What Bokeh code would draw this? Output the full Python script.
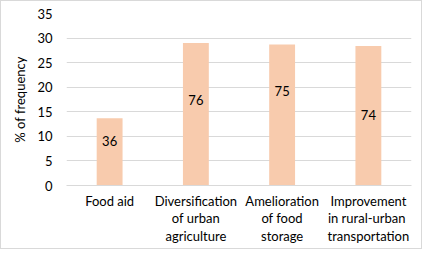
from bokeh.plotting import figure
from bokeh.models import ColumnDataSource, Range1d, FactorRange
from bokeh.embed import file_html
from bokeh.resources import INLINE
from bokeh.core.properties import value

categories = ["Food aid", "Diversification\nof urban\nagriculture",
              "Amelioration\nof food\nstorage", "Improvement\nin  rural-urban\ntransportation"]
percent = [13.7, 29.0, 28.7, 28.4]
counts = ["36", "76", "75", "74"]
label_y = [9.0, 17.5, 19.3, 14.4]
y_ticks = [0, 5, 10, 15, 20, 25, 30, 35]

FONT = "Lato"

src = ColumnDataSource(dict(cat=categories, pct=percent, lab=counts, ly=label_y))

p = figure(width=422, height=249, x_range=FactorRange(*categories), y_range=Range1d(0, 35),
           output_backend="svg", toolbar_location=None,
           min_border_left=65, min_border_right=12, min_border_top=12, min_border_bottom=65)
p.styles = {"border": "1px solid #d9d9d9", "box-sizing": "border-box"}
p.outline_line_color = None
p.x_range.range_padding = 0

p.vbar(x="cat", top="pct", width=0.30, source=src, fill_color="#F8CBAD", line_color=None)
p.text(x="cat", y="ly", text="lab", source=src, text_align="center", text_baseline="middle",
       text_font=value(FONT), text_font_size="13px", text_color="#000000")

p.xgrid.grid_line_color = None
p.ygrid.grid_line_color = "#d9d9d9"
p.ygrid.grid_line_width = 1
p.yaxis.ticker = y_ticks
p.yaxis.axis_line_color = None
p.yaxis.major_tick_line_color = None
p.yaxis.minor_tick_line_color = None
p.yaxis.major_label_text_font = FONT
p.yaxis.major_label_text_font_size = "13px"
p.yaxis.major_label_text_color = "#000000"
p.yaxis.major_label_standoff = 8
p.yaxis.axis_label = "% of frequency"
p.yaxis.axis_label_text_font = FONT
p.yaxis.axis_label_text_font_size = "13px"
p.yaxis.axis_label_text_font_style = "normal"
p.yaxis.axis_label_text_color = "#000000"
p.yaxis.axis_label_standoff = 6

p.xaxis.axis_line_color = "#d9d9d9"
p.xaxis.major_tick_line_color = None
p.xaxis.major_tick_out = 0
p.xaxis.major_tick_in = 0
p.xaxis.minor_tick_line_color = None
p.xaxis.major_label_text_font = FONT
p.xaxis.major_label_text_font_size = "13px"
p.xaxis.major_label_text_color = "#000000"
p.xaxis.major_label_text_line_height = 1.1
p.xaxis.major_label_standoff = 7

open("out.html", "w").write(file_html(p, INLINE))
